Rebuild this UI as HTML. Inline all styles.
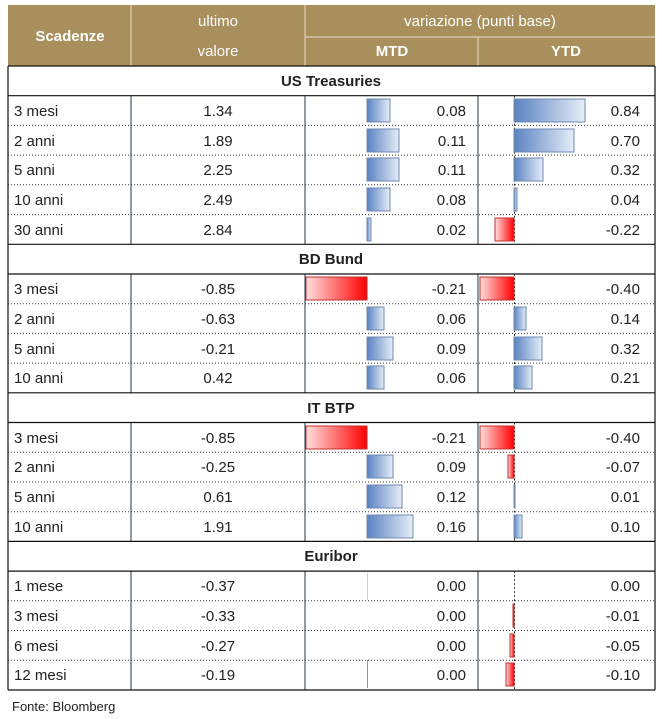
<!DOCTYPE html>
<html><head><meta charset="utf-8"><style>
html,body{margin:0;padding:0;background:#fff;}
svg{display:block;}
text{font-family:"Liberation Sans",sans-serif;fill:#222;}
</style></head><body>
<svg width="662" height="719" viewBox="0 0 662 719" xmlns="http://www.w3.org/2000/svg">
<defs>
<linearGradient id="b" x1="0" x2="1" y1="0" y2="0"><stop offset="0" stop-color="#5a82c2"/><stop offset="1" stop-color="#e6edf7"/></linearGradient>
<linearGradient id="r" x1="0" x2="1" y1="0" y2="0"><stop offset="0" stop-color="#ffdede"/><stop offset="1" stop-color="#ff0000"/></linearGradient>
</defs>
<!-- header -->
<rect x="8" y="5" width="647" height="61" fill="#a88f5b"/>
<g stroke="#e8dfc9" stroke-width="1">
<line x1="131" y1="5" x2="131" y2="66"/><line x1="305" y1="5" x2="305" y2="66"/><line x1="478" y1="37" x2="478" y2="66"/><line x1="305" y1="37" x2="655" y2="37"/>
</g>
<g font-size="15" text-anchor="middle" style="fill:#fff">
<text x="70" y="41" style="fill:#fff;font-weight:bold">Scadenze</text>
<text x="218" y="26" style="fill:#fff">ultimo</text>
<text x="218" y="56" style="fill:#fff">valore</text>
<text x="480" y="26" style="fill:#fff">variazione (punti base)</text>
<text x="392" y="56" style="fill:#fff;font-weight:bold">MTD</text>
<text x="566" y="56" style="fill:#fff;font-weight:bold">YTD</text>
</g>
<!-- section headers -->
<g font-size="15" font-weight="bold" text-anchor="middle">
<text x="331" y="86">US Treasuries</text>
<text x="331" y="264">BD Bund</text>
<text x="331" y="413">IT BTP</text>
<text x="331" y="561">Euribor</text>
</g>
<!-- vertical lines in data blocks -->
<g stroke="#1f3447" stroke-width="1">
<line x1="131" y1="95.7" x2="131" y2="244.3"/><line x1="305" y1="95.7" x2="305" y2="244.3"/><line x1="478" y1="95.7" x2="478" y2="244.3"/>
<line x1="131" y1="274" x2="131" y2="392.8"/><line x1="305" y1="274" x2="305" y2="392.8"/><line x1="478" y1="274" x2="478" y2="392.8"/>
<line x1="131" y1="422.5" x2="131" y2="541.4"/><line x1="305" y1="422.5" x2="305" y2="541.4"/><line x1="478" y1="422.5" x2="478" y2="541.4"/>
<line x1="131" y1="571.1" x2="131" y2="690"/><line x1="305" y1="571.1" x2="305" y2="690"/><line x1="478" y1="571.1" x2="478" y2="690"/>
</g>
<!-- YTD dashed axis -->
<g stroke="#333" stroke-width="1" stroke-dasharray="2,2">
<line x1="514.5" y1="95.7" x2="514.5" y2="244.3"/><line x1="514.5" y1="274" x2="514.5" y2="392.8"/><line x1="514.5" y1="422.5" x2="514.5" y2="541.4"/><line x1="514.5" y1="571.1" x2="514.5" y2="690"/>
</g>
<line x1="367.5" y1="660" x2="367.5" y2="688" stroke="#8899aa" stroke-width="1"/>
<line x1="367.5" y1="573" x2="367.5" y2="600" stroke="#ccd" stroke-width="1"/>
<!-- dotted row separators -->
<g stroke="#333" stroke-width="1" stroke-dasharray="1,2">
<line x1="8" y1="125.4" x2="655" y2="125.4"/><line x1="8" y1="155.1" x2="655" y2="155.1"/><line x1="8" y1="184.8" x2="655" y2="184.8"/><line x1="8" y1="214.6" x2="655" y2="214.6"/>
<line x1="8" y1="303.7" x2="655" y2="303.7"/><line x1="8" y1="333.4" x2="655" y2="333.4"/><line x1="8" y1="363.1" x2="655" y2="363.1"/>
<line x1="8" y1="452.3" x2="655" y2="452.3"/><line x1="8" y1="482" x2="655" y2="482"/><line x1="8" y1="511.7" x2="655" y2="511.7"/>
<line x1="8" y1="600.8" x2="655" y2="600.8"/><line x1="8" y1="630.5" x2="655" y2="630.5"/><line x1="8" y1="660.2" x2="655" y2="660.2"/>
</g>
<!-- solid separators -->
<g stroke="#111" stroke-width="1.2">
<line x1="8" y1="66" x2="655" y2="66"/><line x1="8" y1="95.7" x2="655" y2="95.7"/><line x1="8" y1="244.3" x2="655" y2="244.3"/><line x1="8" y1="274" x2="655" y2="274"/>
<line x1="8" y1="392.8" x2="655" y2="392.8"/><line x1="8" y1="422.5" x2="655" y2="422.5"/><line x1="8" y1="541.4" x2="655" y2="541.4"/><line x1="8" y1="571.1" x2="655" y2="571.1"/>
<line x1="8" y1="690" x2="655" y2="690"/>
<line x1="8" y1="66" x2="8" y2="690"/><line x1="655" y1="66" x2="655" y2="690"/>
</g>
<!-- bars -->
<g stroke="#7088b0" stroke-width="1">
<rect x="367" y="99" width="23" height="23" fill="url(#b)"/>
<rect x="367" y="129" width="32" height="23" fill="url(#b)"/>
<rect x="367" y="158" width="32" height="23" fill="url(#b)"/>
<rect x="367" y="188" width="23" height="23" fill="url(#b)"/>
<rect x="367" y="218" width="4" height="23" fill="url(#b)"/>
<rect x="367" y="307" width="17" height="23" fill="url(#b)"/>
<rect x="367" y="337" width="26" height="23" fill="url(#b)"/>
<rect x="367" y="366" width="17" height="23" fill="url(#b)"/>
<rect x="367" y="455" width="26" height="23" fill="url(#b)"/>
<rect x="367" y="485" width="35" height="23" fill="url(#b)"/>
<rect x="367" y="515" width="46" height="23" fill="url(#b)"/>
<rect x="514" y="99" width="71" height="23" fill="url(#b)"/>
<rect x="514" y="129" width="60" height="23" fill="url(#b)"/>
<rect x="514" y="158" width="29" height="23" fill="url(#b)"/>
<rect x="514" y="188" width="3" height="23" fill="url(#b)"/>
<rect x="514" y="307" width="12" height="23" fill="url(#b)"/>
<rect x="514" y="337" width="28" height="23" fill="url(#b)"/>
<rect x="514" y="366" width="18" height="23" fill="url(#b)"/>
<rect x="514" y="485" width="1" height="23" fill="url(#b)"/>
<rect x="514" y="515" width="8" height="23" fill="url(#b)"/>
</g>
<g stroke="#c03030" stroke-width="1">
<rect x="306" y="277" width="61" height="23" fill="url(#r)"/>
<rect x="306" y="426" width="61" height="23" fill="url(#r)"/>
<rect x="495" y="218" width="19" height="23" fill="url(#r)"/>
<rect x="480" y="277" width="34" height="23" fill="url(#r)"/>
<rect x="480" y="426" width="34" height="23" fill="url(#r)"/>
<rect x="508" y="455" width="6" height="23" fill="url(#r)"/>
<rect x="513" y="604" width="1" height="23" fill="url(#r)"/>
<rect x="510" y="634" width="4" height="23" fill="url(#r)"/>
<rect x="506" y="663" width="8" height="23" fill="url(#r)"/>
</g>
<!-- row text -->
<g font-size="15">
<g>
<text x="14" y="116">3 mesi</text><text x="14" y="146">2 anni</text><text x="14" y="175">5 anni</text><text x="14" y="205">10 anni</text><text x="14" y="235">30 anni</text>
<text x="14" y="294">3 mesi</text><text x="14" y="324">2 anni</text><text x="14" y="354">5 anni</text><text x="14" y="383">10 anni</text>
<text x="14" y="443">3 mesi</text><text x="14" y="472">2 anni</text><text x="14" y="502">5 anni</text><text x="14" y="532">10 anni</text>
<text x="14" y="591">1 mese</text><text x="14" y="621">3 mesi</text><text x="14" y="651">6 mesi</text><text x="14" y="680">12 mesi</text>
</g>
<g text-anchor="middle">
<text x="218" y="116">1.34</text><text x="218" y="146">1.89</text><text x="218" y="175">2.25</text><text x="218" y="205">2.49</text><text x="218" y="235">2.84</text>
<text x="218" y="294">-0.85</text><text x="218" y="324">-0.63</text><text x="218" y="354">-0.21</text><text x="218" y="383">0.42</text>
<text x="218" y="443">-0.85</text><text x="218" y="472">-0.25</text><text x="218" y="502">0.61</text><text x="218" y="532">1.91</text>
<text x="218" y="591">-0.37</text><text x="218" y="621">-0.33</text><text x="218" y="651">-0.27</text><text x="218" y="680">-0.19</text>
</g>
<g text-anchor="end">
<text x="466" y="116">0.08</text><text x="466" y="146">0.11</text><text x="466" y="175">0.11</text><text x="466" y="205">0.08</text><text x="466" y="235">0.02</text>
<text x="466" y="294">-0.21</text><text x="466" y="324">0.06</text><text x="466" y="354">0.09</text><text x="466" y="383">0.06</text>
<text x="466" y="443">-0.21</text><text x="466" y="472">0.09</text><text x="466" y="502">0.12</text><text x="466" y="532">0.16</text>
<text x="466" y="591">0.00</text><text x="466" y="621">0.00</text><text x="466" y="651">0.00</text><text x="466" y="680">0.00</text>
<text x="640" y="116">0.84</text><text x="640" y="146">0.70</text><text x="640" y="175">0.32</text><text x="640" y="205">0.04</text><text x="640" y="235">-0.22</text>
<text x="640" y="294">-0.40</text><text x="640" y="324">0.14</text><text x="640" y="354">0.32</text><text x="640" y="383">0.21</text>
<text x="640" y="443">-0.40</text><text x="640" y="472">-0.07</text><text x="640" y="502">0.01</text><text x="640" y="532">0.10</text>
<text x="640" y="591">0.00</text><text x="640" y="621">-0.01</text><text x="640" y="651">-0.05</text><text x="640" y="680">-0.10</text>
</g>
</g>
<text x="12" y="711" font-size="13">Fonte: Bloomberg</text>
</svg>
</body></html>
